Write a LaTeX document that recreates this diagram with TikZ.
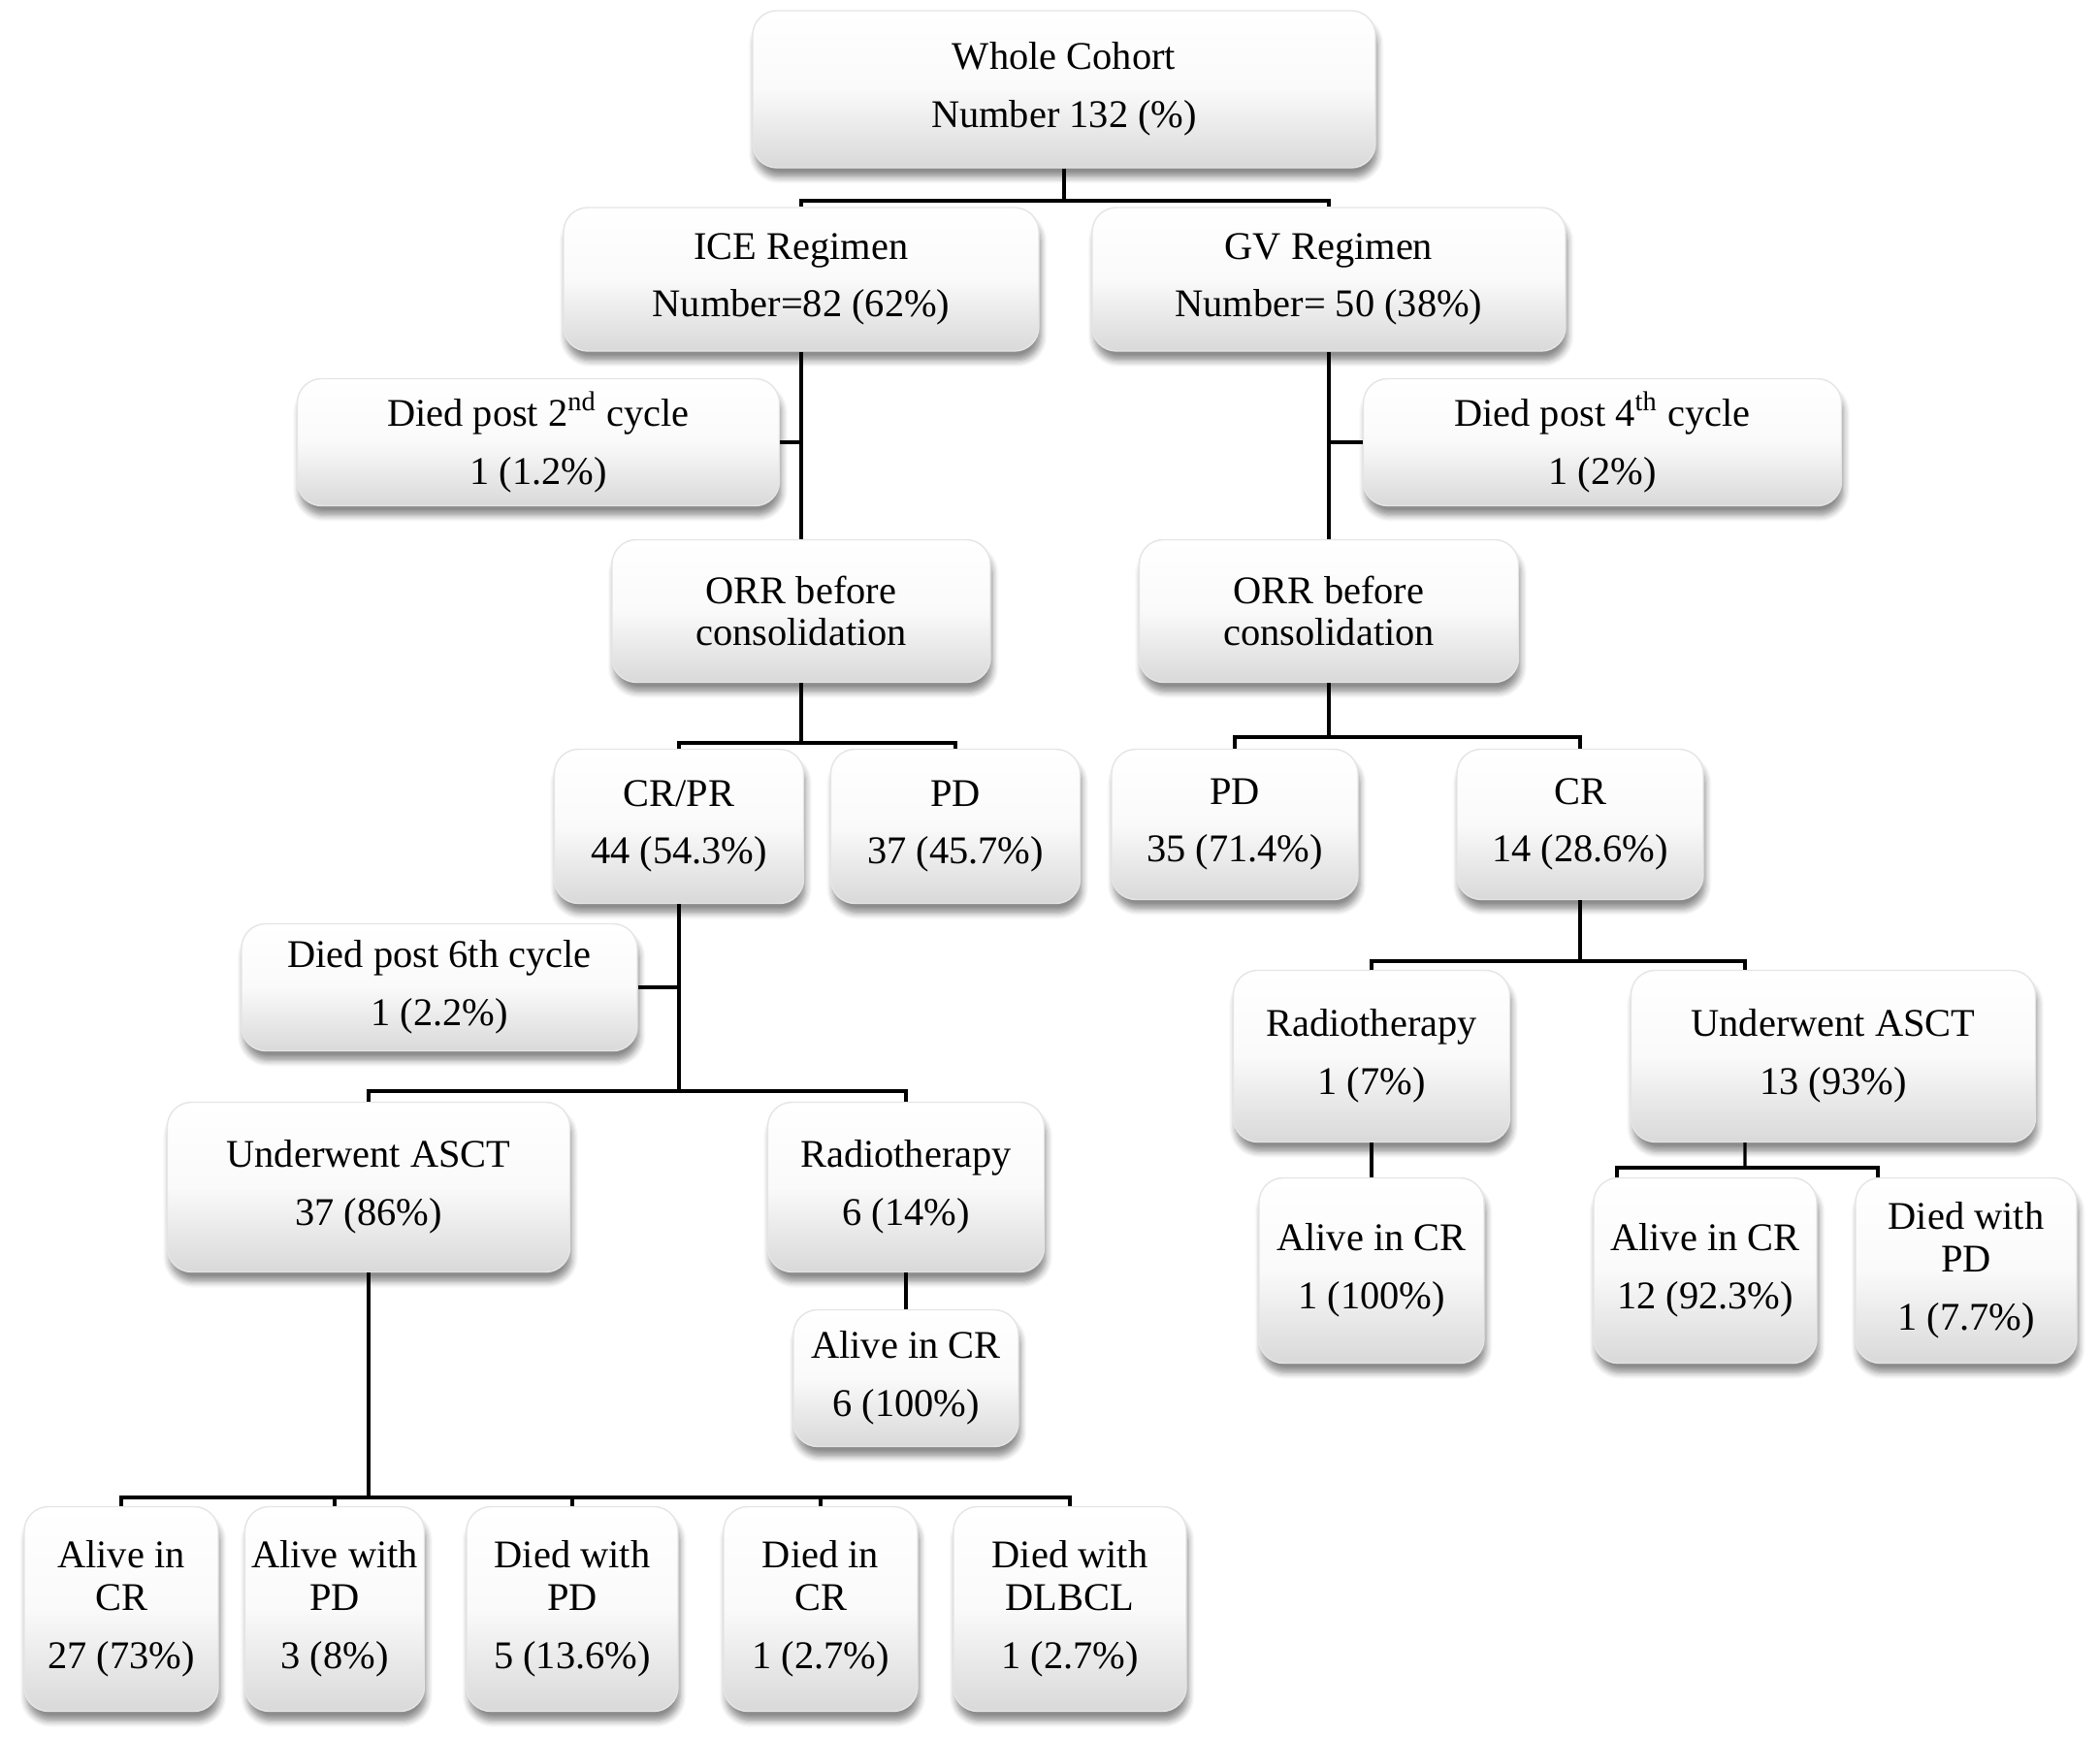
\documentclass[tikz,border=0pt]{standalone}
\usepackage{fontspec}
\setmainfont{Liberation Serif}
\usetikzlibrary{shadows.blur}

\begin{document}
\begin{tikzpicture}
  [every node/.style={rounded corners=0.25cm,top color=white,bottom color=black!15,middle color=black!2,draw=black!10,
     blur shadow={shadow xshift=0.6pt,shadow yshift=-2.8pt,shadow opacity=45,shadow blur steps=6},
     align=center,inner sep=0pt,font=\fontsize{11.5}{17}\selectfont},
   link/.style={line width=0.9pt}]
  \useasboundingbox (0,0) rectangle (21.65,-17.91);

  \node (whole) at (10.97,-0.92) [minimum width=6.42cm,minimum height=1.62cm] {Whole Cohort\\Number 132 (\%)};
  \node (ice) at (8.26,-2.88) [minimum width=4.90cm,minimum height=1.48cm] {ICE Regimen\\Number=82 (62\%)};
  \node (gv) at (13.70,-2.88) [minimum width=4.88cm,minimum height=1.48cm] {GV Regimen\\Number= 50 (38\%)};
  \node (dl2) at (5.55,-4.56) [minimum width=4.97cm,minimum height=1.31cm] {Died post 2\textsuperscript{nd} cycle\\1 (1.2\%)};
  \node (dr4) at (16.52,-4.56) [minimum width=4.93cm,minimum height=1.31cm] {Died post 4\textsuperscript{th} cycle\\1 (2\%)};
  \node (orrl) at (8.26,-6.30) [minimum width=3.90cm,minimum height=1.47cm] {ORR before\\[-4.5pt]consolidation};
  \node (orrr) at (13.70,-6.30) [minimum width=3.91cm,minimum height=1.47cm] {ORR before\\[-4.5pt]consolidation};
  \node (crpr) at (7.00,-8.52) [minimum width=2.57cm,minimum height=1.59cm] {CR/PR\\44 (54.3\%)};
  \node (pdl) at (9.85,-8.52) [minimum width=2.57cm,minimum height=1.59cm] {PD\\37 (45.7\%)};
  \node (pdr) at (12.73,-8.50) [minimum width=2.54cm,minimum height=1.55cm] {PD\\35 (71.4\%)};
  \node (crr) at (16.29,-8.50) [minimum width=2.54cm,minimum height=1.55cm] {CR\\14 (28.6\%)};
  \node (dl6) at (4.53,-10.18) [minimum width=4.08cm,minimum height=1.31cm] {Died post 6th cycle\\1 (2.2\%)};
  \node (ascl) at (3.80,-12.24) [minimum width=4.15cm,minimum height=1.75cm] {Underwent ASCT\\37 (86\%)};
  \node (radl) at (9.34,-12.24) [minimum width=2.85cm,minimum height=1.75cm] {Radiotherapy\\6 (14\%)};
  \node (alvl) at (9.34,-14.21) [minimum width=2.32cm,minimum height=1.41cm] {Alive in CR\\6 (100\%)};
  \node (radr) at (14.14,-10.89) [minimum width=2.85cm,minimum height=1.77cm] {Radiotherapy\\1 (7\%)};
  \node (ascr) at (18.90,-10.89) [minimum width=4.17cm,minimum height=1.77cm] {Underwent ASCT\\13 (93\%)};
  \node (alvr1) at (14.14,-13.10) [minimum width=2.32cm,minimum height=1.91cm] {Alive in CR\\1 (100\%)};
  \node (alvr2) at (17.58,-13.10) [minimum width=2.30cm,minimum height=1.91cm] {Alive in CR\\12 (92.3\%)};
  \node (dpdr) at (20.27,-13.10) [minimum width=2.28cm,minimum height=1.91cm] {Died with\\[-4.5pt]PD\\1 (7.7\%)};
  \node (b1) at (1.25,-16.59) [minimum width=2.00cm,minimum height=2.11cm] {Alive in\\[-4.5pt]CR\\27 (73\%)};
  \node (b2) at (3.45,-16.59) [minimum width=1.85cm,minimum height=2.11cm] {Alive with\\[-4.5pt]PD\\3 (8\%)};
  \node (b3) at (5.90,-16.59) [minimum width=2.18cm,minimum height=2.11cm] {Died with\\[-4.5pt]PD\\5 (13.6\%)};
  \node (b4) at (8.46,-16.59) [minimum width=2.00cm,minimum height=2.11cm] {Died in\\[-4.5pt]CR\\1 (2.7\%)};
  \node (b5) at (11.03,-16.59) [minimum width=2.40cm,minimum height=2.11cm] {Died with\\[-4.5pt]DLBCL\\1 (2.7\%)};

  \coordinate (j1) at (10.97,-2.07);
  \coordinate (j2) at (8.26,-7.66);
  \coordinate (j3) at (13.70,-7.60);
  \coordinate (j4) at (7.00,-11.25);
  \coordinate (j5) at (3.80,-15.44);
  \coordinate (j6) at (16.29,-9.91);
  \coordinate (j7) at (17.99,-12.04);
  \coordinate (ascrin) at ([xshift=-0.91cm]ascr.north);
  \coordinate (ascrout) at ([xshift=-0.91cm]ascr.south);
  \coordinate (alvr2in) at ([xshift=-0.91cm]alvr2.north);
  \coordinate (dpdrin) at ([xshift=-0.91cm]dpdr.north);

\foreach \from/\to in
{whole.south/j1, ice.south/orrl.north, gv.south/orrr.north, orrl.south/j2, orrr.south/j3,
 crpr.south/j4, radl.south/alvl.north, ascl.south/j5, crr.south/j6, ascrout/j7, radr.south/alvr1.north}
    \draw[link] (\from) -- (\to);
\foreach \from/\to in
{j1/ice.north, j1/gv.north, j2/crpr.north, j2/pdl.north, j3/pdr.north, j3/crr.north,
 j4/ascl.north, j4/radl.north, j5/b1.north, j5/b2.north, j5/b3.north, j5/b4.north, j5/b5.north,
 j6/radr.north, j6/ascrin, j7/alvr2in, j7/dpdrin}
    \draw[link] (\from) -| (\to);
  \draw[link] (dl2.east) -- (dl2.east -| ice.south);
  \draw[link] (dr4.west) -- (dr4.west -| gv.south);
  \draw[link] (dl6.east) -- (dl6.east -| crpr.south);
\end{tikzpicture}
\end{document}
